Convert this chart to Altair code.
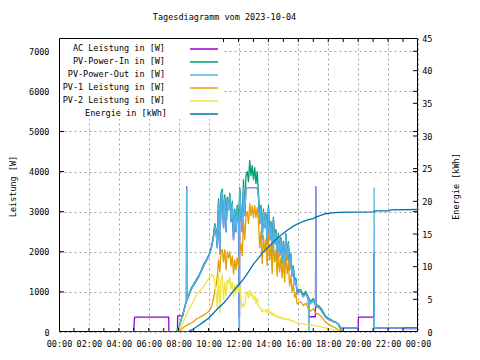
import altair as alt
import pandas as pd

FONT = "DejaVu Sans Mono"
FS = 8.5
GRID_COLOR = "#a0a0a0"

TITLE = "Tagesdiagramm vom 2023-10-04"
LABELS = ["AC Leistung in [W]", "PV-Power-In in [W]", "PV-Power-Out in [W]",
          "PV-1 Leistung in [W]", "PV-2 Leistung in [W]", "Energie in [kWh]"]
COLORS = ["#9400d3", "#009e73", "#56b4e9", "#e69f00", "#f0e442", "#0072b2"]

X_TICKS = list(range(0, 25, 2))
W_TICKS = list(range(0, 7001, 1000))
E_TICKS = list(range(0, 46, 5))

# shared time grid of the PV series (HH:MM)
GRID = (["07:50"] + [f"{h:02d}:{m:02d}" for h in (8, 9) for m in range(0, 60, 10)] + ["10:00", "10:10"]
        + [f"10:{m:02d}" for m in range(15, 60, 5)]
        + [f"{h:02d}:{m:02d}" for h in range(11, 16) for m in range(0, 60, 5)] + ["16:00"]
        + [f"{h:02d}:{m:02d}" for h in (16, 17, 18) for m in range(0, 60, 10)][1:] + ["19:00"])

# PV-Power-Out [W]
PV_OUT = ([0, 80, 280, 500, 740, 900, 1060, 1160, 1270, 1370, 1500, 1650, 1760, 1880, 2060]
          + [2200, 2380, 2650, 2500, 2100, 3250, 1950, 3400, 3500]
          + [2600, 3350, 2500, 3300, 3050, 3400, 2750, 3200, 2300, 3000, 2500, 3100]
          + [2700, 3550, 2950, 2500, 3600, 2900, 3600, 3600, 3600, 3600, 3600, 3600]
          + [3600, 3600, 3600, 3600, 3400, 2700, 3100, 2300, 3000, 2600, 2900, 2200]
          + [3090, 2300, 2700, 1900, 2800, 2200, 2500, 1800, 2400, 1900, 2300, 1700]
          + [2200, 1650, 2400, 1800, 2200, 1550, 1900, 1400, 1600, 1200, 1300, 950]
          + [1000]
          + [1000, 880, 960, 820, 700, 780, 640, 620, 560, 460, 360, 320, 290, 260, 240, 200, 110, 100])
PV_OUT_EXTRA = {"04:00": 0, "08:31": 760, "08:32": 3580, "08:33": 780,
                "12:01": 2600, "12:02": 0, "12:04": 0,
                "16:42": 0, "16:43": 0, "16:44": 800,
                "17:09": 650, "17:10": 3590, "17:11": 630,
                "20:00": 100, "20:01": 0, "21:03": 0, "21:04": 3590, "21:05": 100,
                "23:00": 100, "23:01": 80, "24:00": 80}

# PV-Power-In [W]
PV_IN = ([0, 110, 310, 530, 770, 930, 1090, 1190, 1300, 1400, 1530, 1680, 1790, 1910, 2090]
         + [2260, 2440, 2700, 2560, 2150, 3320, 2000, 3460, 3560]
         + [2660, 3420, 2560, 3360, 3110, 3460, 2810, 3260, 2350, 3060, 2560, 3160]
         + [2760, 3600, 3000, 2560, 3800, 2960, 3900, 4000, 3750, 4280, 3900, 4150]
         + [3800, 4100, 3700, 4000, 3460, 2760, 3160, 2350, 3060, 2650, 2960, 2250]
         + [3150, 2350, 2760, 1950, 2860, 2250, 2560, 1850, 2460, 1950, 2360, 1750]
         + [2260, 1700, 2450, 1850, 2250, 1600, 1950, 1450, 1650, 1250, 1350, 1000]
         + [1050]
         + [1050, 930, 1010, 870, 760, 830, 690, 660, 600, 500, 390, 350, 310, 270, 250, 190, 60, 0])

# PV-1 [W]
PV1 = ([0, 10, 60, 120, 160, 195, 225, 260, 320, 350, 390, 420, 460, 510, 600]
       + [700, 850, 1050, 1150, 1400, 1800, 1500, 2000, 2050]
       + [1750, 2050, 1550, 2000, 1850, 2000, 1650, 1900, 1450, 1800, 1550, 1850]
       + [1650, 2000, 2200, 1900, 2800, 2300, 2900, 3000, 2700, 3200, 2900, 3150]
       + [2850, 3150, 2850, 3100, 2750, 2100, 2500, 1700, 2400, 2000, 2300, 1650]
       + [2450, 1800, 2150, 1450, 2250, 1750, 2050, 1400, 1950, 1500, 1850, 1350]
       + [1800, 1250, 1950, 1450, 1750, 1150, 1400, 1000, 1200, 870, 950, 700]
       + [730]
       + [760, 660, 720, 600, 520, 580, 470, 450, 400, 320, 240, 200, 160, 130, 95, 55, 15, 0])

# PV-2 [W]
PV2 = ([0, 30, 120, 260, 420, 560, 660, 780, 920, 980, 1060, 1130, 1230, 1340, 1400]
       + [1440, 1380, 1250, 950, 620, 1450, 480, 1300, 1420]
       + [800, 1250, 900, 1300, 1200, 1370, 1080, 1250, 880, 1180, 980, 1200]
       + [1000, 1150, 800, 600, 700, 650, 900, 1000, 850, 1050, 900, 950]
       + [800, 900, 700, 850, 650, 600, 600, 500, 550, 520, 560, 480]
       + [580, 450, 500, 420, 480, 400, 420, 360, 400, 350, 380, 320]
       + [350, 310, 340, 300, 330, 280, 300, 270, 280, 250, 240, 230]
       + [220]
       + [210, 200, 190, 185, 175, 165, 155, 145, 135, 115, 100, 85, 70, 55, 40, 25, 10, 0])
PV_START = {"04:00": 0}

# AC Leistung [W]: own night/evening points, daytime read as equal to PV-Power-Out
AC_EXTRA = {"00:00": 0, "05:00": 0, "05:02": 300, "05:04": 370, "07:20": 370, "07:21": 0,
            "07:55": 0, "07:56": 400, "08:17": 400,
            "08:31": 760, "08:32": 3620, "08:33": 780,
            "12:01": 1500, "12:02": 380, "12:04": 380,
            "16:42": 380, "17:08": 380, "17:09": 650, "17:10": 3620, "17:11": 630,
            "20:00": 100, "20:01": 370, "21:02": 370, "21:03": 1970, "21:04": 100, "24:00": 100}

# Energie [kWh]
E_T = ["04:00", "08:30", "08:40", "09:00", "09:20", "09:40", "10:00", "10:20", "10:40", "11:00",
       "11:20", "11:40", "12:00", "12:20", "12:40", "13:00", "13:20", "13:40", "14:00", "14:20",
       "14:40", "15:00", "15:20", "15:40", "16:00", "16:20", "16:40", "17:00", "17:10", "17:30",
       "17:50", "18:10", "18:40", "19:30", "21:00", "21:10", "22:05", "22:10", "24:00"]
E_V = [0, 0, 0.1, 0.5, 1.0, 1.55, 2.1, 2.9, 3.7, 4.4,
       5.3, 6.3, 7.2, 8.1, 9.2, 10.4, 11.3, 12.3, 13.0, 13.8,
       14.5, 15.1, 15.7, 16.2, 16.6, 16.95, 17.2, 17.35, 17.6, 17.85,
       18.1, 18.2, 18.3, 18.35, 18.4, 18.55, 18.55, 18.7, 18.75]


def hrs(t):
    h, m = t.split(":")
    return int(h) + int(m) / 60


def frame(times, values, extra=None, skip=None):
    pts = dict(zip(times, values))
    if skip:
        pts = {t: v for t, v in pts.items() if not (skip[0] <= t <= skip[1])}
    if extra:
        pts.update(extra)
    rows = sorted((hrs(t), v) for t, v in pts.items())
    return pd.DataFrame(rows, columns=["h", "v"])


ac_day = {t: v for t, v in zip(GRID, PV_OUT) if "08:20" <= t <= "19:00"}
ac_df = frame(list(ac_day.keys()), list(ac_day.values()), AC_EXTRA, skip=("16:43", "17:08"))
pin_df = frame(GRID, PV_IN, PV_START)
pout_df = frame(GRID, PV_OUT, PV_OUT_EXTRA)
pv1_df = frame(GRID, PV1, PV_START)
pv2_df = frame(GRID, PV2, PV_START)
e_df = frame(E_T, E_V)

x_enc = alt.X("h:Q", scale=alt.Scale(domain=[0, 24], nice=False, zero=False),
              axis=alt.Axis(values=X_TICKS, grid=True, gridColor=GRID_COLOR, gridDash=[2, 3],
                            ticks=False, tickSize=0, domain=False, labelPadding=7,
                            labelOverlap=False, labelFlush=False,
                            labelExpr="(datum.value % 24 < 10 ? '0' : '') + (datum.value % 24) + ':00'",
                            labelFont=FONT, labelFontSize=FS, labelColor="black", title=None))

y_w = alt.Y("v:Q", scale=alt.Scale(domain=[0, 7330], nice=False, zero=True),
            axis=alt.Axis(values=W_TICKS, format="d", grid=True, gridColor=GRID_COLOR, gridDash=[2, 3],
                          ticks=False, tickSize=0, domain=False, labelPadding=10,
                          labelOverlap=False, labelFlush=False,
                          labelFont=FONT, labelFontSize=FS, labelColor="black",
                          title="Leistung [W]", titleFont=FONT, titleFontSize=FS,
                          titleFontWeight="normal", titleColor="black", titleX=-47, titleY=148,
                          titleAngle=270, titleAlign="center", titleBaseline="middle"))

y_e = alt.Y("v:Q", scale=alt.Scale(domain=[0, 45], nice=False, zero=True),
            axis=alt.Axis(orient="right", values=E_TICKS, format="d", grid=False, ticks=False, tickSize=0,
                          domain=False, labelPadding=14, labelAlign="right",
                          labelOverlap=False, labelFlush=False,
                          labelFont=FONT, labelFontSize=FS, labelColor="black",
                          title="Energie [kWh]", titleFont=FONT, titleFontSize=FS,
                          titleFontWeight="normal", titleColor="black", titleX=37, titleY=148,
                          titleAngle=270, titleAlign="center", titleBaseline="middle"))


def line(df, color):
    return alt.Chart(df).mark_line(color=color, strokeWidth=1.3, clip=True,
                                   strokeJoin="round").encode(x=x_enc, y=y_w)


one = pd.DataFrame({"a": [0]})
W, H = 359, 294

power_layers = [line(ac_df, COLORS[0]), line(pin_df, COLORS[1]), line(pout_df, COLORS[2]),
                line(pv1_df, COLORS[3]), line(pv2_df, COLORS[4])]

# inward tick marks
wt = pd.DataFrame({"v": W_TICKS[1:]})
power_layers.append(alt.Chart(wt).mark_rule(color="black", strokeWidth=1).encode(
    y=y_w, x=alt.value(0), x2=alt.value(5)))
power_layers.append(alt.Chart(wt).mark_rule(color="black", strokeWidth=1).encode(
    y=y_w, x=alt.value(W - 5), x2=alt.value(W)))
ht = pd.DataFrame({"h": list(range(1, 24))})
power_layers.append(alt.Chart(ht).mark_rule(color="black", strokeWidth=1).encode(
    x=x_enc, y=alt.value(H - 4), y2=alt.value(H)))
power_layers.append(alt.Chart(ht).mark_rule(color="black", strokeWidth=1).encode(
    x=x_enc, y=alt.value(0), y2=alt.value(4)))

# legend (opaque box, labels right-aligned, samples to the right)
power_layers.append(alt.Chart(one).mark_rect(color="white").encode(
    x=alt.value(1), x2=alt.value(164), y=alt.value(1), y2=alt.value(81)))
for i, (lab, col) in enumerate(zip(LABELS[:5], COLORS[:5])):
    power_layers.append(alt.Chart(one).mark_text(
        align="right", baseline="alphabetic", font=FONT, fontSize=FS, color="black").encode(
        x=alt.value(106), y=alt.value(12.5 + 13 * i), text=alt.value(lab)))
    power_layers.append(alt.Chart(one).mark_rule(color=col, strokeWidth=1.5).encode(
        x=alt.value(131), x2=alt.value(159), y=alt.value(11 + 13 * i)))
power_layers.append(alt.Chart(one).mark_text(
    align="right", baseline="alphabetic", font=FONT, fontSize=FS, color="black").encode(
    x=alt.value(108), y=alt.value(12.5 + 13 * 5), text=alt.value(LABELS[5])))
power_layers.append(alt.Chart(one).mark_rule(color=COLORS[5], strokeWidth=1.5).encode(
    x=alt.value(131), x2=alt.value(159), y=alt.value(11 + 13 * 5)))

# title
power_layers.append(alt.Chart(one).mark_text(
    align="center", baseline="alphabetic", font=FONT, fontSize=FS, color="black").encode(
    x=alt.value(165.5), y=alt.value(-18), text=alt.value(TITLE)))

# border
power_layers.append(alt.Chart(one).mark_rect(filled=False, stroke="black", strokeWidth=1).encode(
    x=alt.value(0.5), x2=alt.value(W - 0.5), y=alt.value(0.5), y2=alt.value(H - 0.5)))

power = alt.layer(*power_layers)

et = pd.DataFrame({"v": E_TICKS[1:-1]})
energy = alt.layer(
    alt.Chart(e_df).mark_line(color=COLORS[5], strokeWidth=1.3, clip=True).encode(x=x_enc, y=y_e),
    alt.Chart(et).mark_rule(color="black", strokeWidth=1).encode(
        y=y_e, x=alt.value(W - 5), x2=alt.value(W)),
)

chart = alt.layer(power, energy).resolve_scale(y="independent").properties(
    width=W, height=H,
    autosize=alt.AutoSizeParams(type="none"),
    padding={"left": 51, "top": 30, "right": 54, "bottom": 20},
    background="white",
).configure_view(strokeWidth=0)

chart.save("out.html", embed_options={"renderer": "svg", "actions": False})
